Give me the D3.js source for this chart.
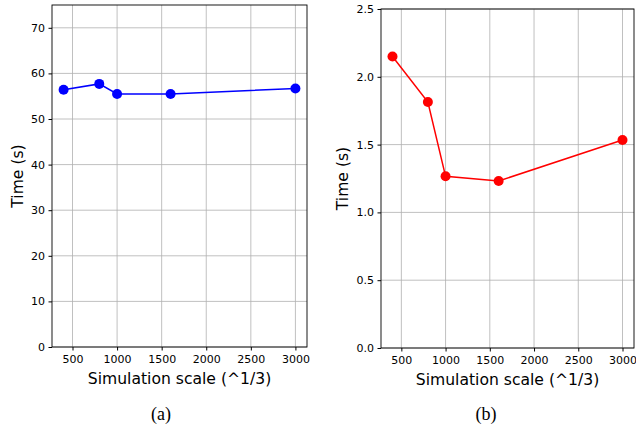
<!DOCTYPE html>
<html>
<head>
<meta charset="utf-8">
<script src="https://cdn.jsdelivr.net/npm/d3@7"></script>
<style>
  body { margin: 0; background: #fff; }
  .tick text { font-family: "DejaVu Sans", sans-serif; font-size: 11px; fill: #000; }
  .grid line { stroke: #b0b0b0; stroke-width: 0.8; }
</style>
</head>
<body>
<script>
// data
var scales = [400, 800, 1000, 1600, 3000];
var timeA = [56.4, 57.7, 55.5, 55.5, 56.7];
var timeB = [2.15, 1.814, 1.266, 1.232, 1.534];
var xTicks = [500, 1000, 1500, 2000, 2500, 3000];
var yTicksA = [0, 10, 20, 30, 40, 50, 60, 70];
var yTicksB = [0.0, 0.5, 1.0, 1.5, 2.0, 2.5];

var width = 636, height = 429;

var svg = d3.select("body").append("svg")
  .attr("width", width).attr("height", height);

function panel(opt) {
  var x = d3.scaleLinear().domain([270, 3130]).range([opt.left, opt.right]);
  var y = d3.scaleLinear().domain(opt.ydomain).range([opt.bottom, opt.top]);
  var g = svg.append("g");

  // grid
  g.append("g").attr("class", "grid")
    .selectAll("line").data(xTicks).enter().append("line")
      .attr("x1", function(d) { return x(d); }).attr("x2", function(d) { return x(d); })
      .attr("y1", opt.top).attr("y2", opt.bottom);
  g.append("g").attr("class", "grid")
    .selectAll("line").data(opt.yticks).enter().append("line")
      .attr("y1", function(d) { return y(d); }).attr("y2", function(d) { return y(d); })
      .attr("x1", opt.left).attr("x2", opt.right);

  // axes
  g.append("g")
    .attr("transform", "translate(0," + opt.bottom + ")")
    .call(d3.axisBottom(x).tickValues(xTicks).tickSize(3.5).tickPadding(5).tickFormat(d3.format("d")))
    .call(function(a) { a.select(".domain").remove(); });
  g.append("g")
    .attr("transform", "translate(" + opt.left + ",0)")
    .call(d3.axisLeft(y).tickValues(opt.yticks).tickSize(3.5).tickPadding(3.5).tickFormat(opt.fmt))
    .call(function(a) { a.select(".domain").remove(); });

  g.append("rect")
    .attr("x", opt.left).attr("y", opt.top)
    .attr("width", opt.right - opt.left).attr("height", opt.bottom - opt.top)
    .attr("fill", "none").attr("stroke", "#000").attr("stroke-width", 0.9);

  // series
  var line = d3.line()
    .x(function(d, i) { return x(scales[i]); })
    .y(function(d) { return y(d); });
  g.append("path").datum(opt.data)
    .attr("d", line).attr("fill", "none")
    .attr("stroke", opt.color).attr("stroke-width", 1.5);
  g.selectAll(".dot").data(opt.data).enter().append("circle")
    .attr("cx", function(d, i) { return x(scales[i]); })
    .attr("cy", function(d) { return y(d); })
    .attr("r", 5).attr("fill", opt.color);

  // labels
  var cx = (opt.left + opt.right) / 2;
  g.append("text")
    .attr("x", cx).attr("y", opt.bottom + 36.5)
    .attr("text-anchor", "middle")
    .style("font-family", "DejaVu Sans, sans-serif").style("font-size", "15.6px")
    .text("Simulation scale (^1/3)");
  g.append("text")
    .attr("transform", "translate(" + opt.ylabelX + "," + ((opt.top + opt.bottom) / 2) + ") rotate(-90)")
    .attr("text-anchor", "middle")
    .style("font-family", "DejaVu Sans, sans-serif").style("font-size", "15.6px")
    .text("Time (s)");
  g.append("text")
    .attr("x", opt.capX).attr("y", 420)
    .attr("text-anchor", "middle")
    .style("font-family", "Liberation Serif, serif").style("font-size", "18px")
    .text(opt.caption);
}

panel({ left: 52, right: 307, top: 5, bottom: 347, ydomain: [0, 75],
  yticks: yTicksA, fmt: d3.format("d"), data: timeA, color: "#0000ff",
  ylabelX: 23, capX: 161, caption: "(a)" });

panel({ left: 381, right: 634, top: 9, bottom: 348, ydomain: [0, 2.5],
  yticks: yTicksB, fmt: d3.format(".1f"), data: timeB, color: "#ff0000",
  ylabelX: 348, capX: 486, caption: "(b)" });
</script>
</body>
</html>
